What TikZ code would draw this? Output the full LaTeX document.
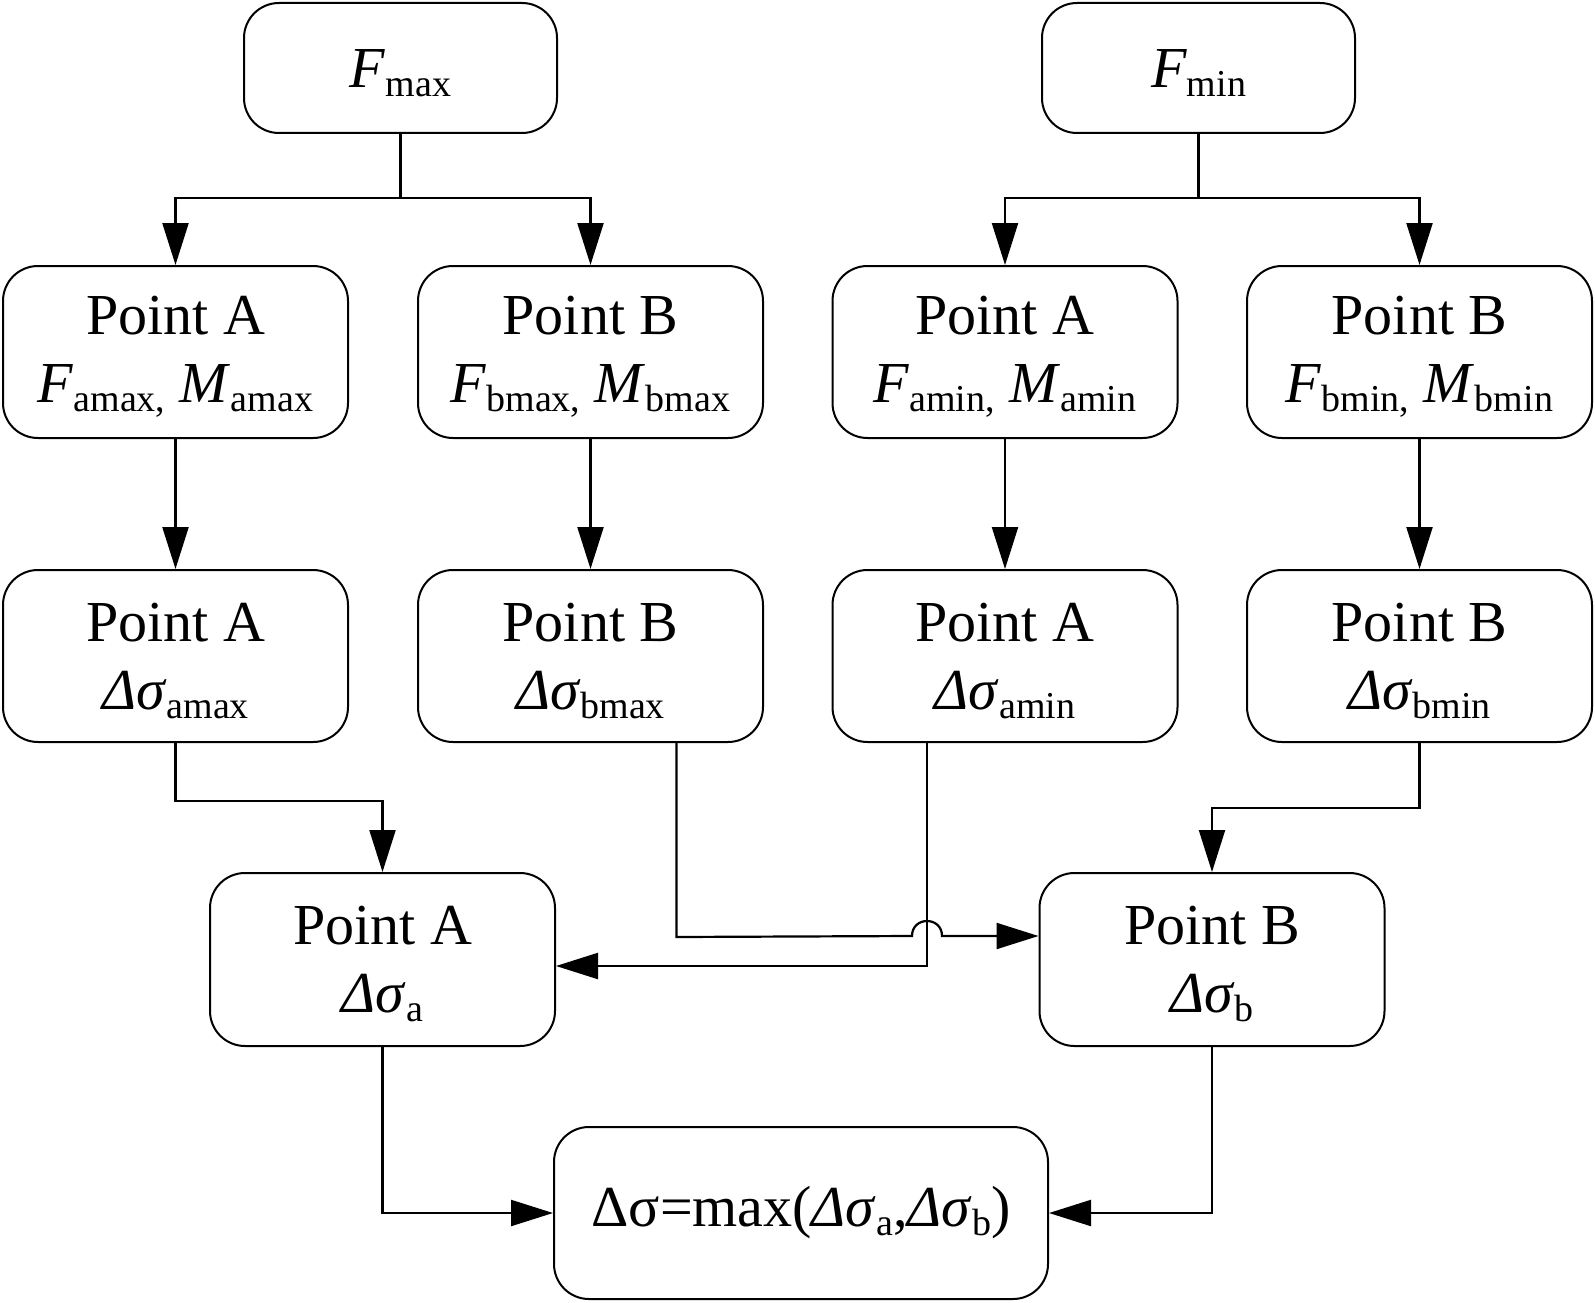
\documentclass[tikz,border=0pt]{standalone}
\usepackage{fontspec}
\setmainfont{Liberation Serif}
\usetikzlibrary{arrows.meta,calc}
\newcommand\sbs[1]{\raisebox{-9pt}{\fontsize{38}{38}\selectfont #1}}
\newcommand\tp{\rule{0pt}{48pt}}
\begin{document}
\begin{tikzpicture}[x=1pt,y=-1pt,
  box/.style={draw, line width=2pt, rounded corners=35pt, align=center, inner sep=0pt,
    font=\fontsize{58}{68}\selectfont, minimum width=345pt, minimum height=172pt},
  ln/.style={line width=2.2pt},
  arr/.style={line width=2.2pt, -{Triangle[length=42pt,width=26pt]}}]
\useasboundingbox (0,0) rectangle (1595,1303);
% top
\node[box, minimum width=313pt, minimum height=130pt] (fmax) at (400.5,68) {\tp\textit{F}\sbs{max}};
\node[box, minimum width=313pt, minimum height=130pt] (fmin) at (1198.5,68) {\tp\textit{F}\sbs{min}};
% row 2
\node[box] (a1) at (175.5,352) {\tp Point A\\\textit{F}\sbs{amax,} \textit{M}\sbs{amax}};
\node[box] (b1) at (590.5,352) {\tp Point B\\\textit{F}\sbs{bmax,} \textit{M}\sbs{bmax}};
\node[box] (a2) at (1005,352) {\tp Point A\\\textit{F}\sbs{amin,} \textit{M}\sbs{amin}};
\node[box] (b2) at (1419.5,352) {\tp Point B\\\textit{F}\sbs{bmin,} \textit{M}\sbs{bmin}};
% row 3
\node[box] (a3) at (175.5,656) {\tp Point A\\\textit{Δσ}\sbs{amax}};
\node[box] (b3) at (590.5,656) {\tp Point B\\\textit{Δσ}\sbs{bmax}};
\node[box] (a4) at (1005,656) {\tp Point A\\\textit{Δσ}\sbs{amin}};
\node[box] (b4) at (1419.5,656) {\tp Point B\\\textit{Δσ}\sbs{bmin}};
% row 4
\node[box, minimum height=173pt] (pa) at (382.5,959.5) {\tp Point A\\\textit{Δσ}\sbs{a}};
\node[box, minimum height=173pt] (pb) at (1212,959.5) {\tp Point B\\\textit{Δσ}\sbs{b}};
% result
\node[box, minimum width=494pt] (res) at (801,1213) {Δσ=max(\textit{Δσ}\sbs{a},\textit{Δσ}\sbs{b})};
% connectors top
\draw[ln] (fmax.south) -- ($(fmax.south)+(0,64)$) coordinate (j1);
\draw[arr] (j1) -| (a1.north);
\draw[arr] (j1) -| (b1.north);
\draw[ln] (fmin.south) -- ($(fmin.south)+(0,64)$) coordinate (j2);
\draw[arr] (j2) -| (a2.north);
\draw[arr] (j2) -| (b2.north);
% row 2 -> row 3
\draw[arr] (a1.south) -- (a3.north);
\draw[arr] (b1.south) -- (b3.north);
\draw[arr] (a2.south) -- (a4.north);
\draw[arr] (b2.south) -- (b4.north);
% row 3 -> row 4
\draw[arr] (a3.south) -- ++(0,58) -| (pa.north);
\draw[arr] (b4.south) -- ++(0,65) -| (pb.north);
\draw[arr] ($(b3.south)+(86,0)$) -- ($(b3.south)+(86,194)$) -- (912,936)
  .. controls (912,916) and (942,916) .. (942,936) -- ($(pb.west)+(0,-23.5)$);
\draw[arr] ($(a4.south)+(-78,0)$) |- ($(pa.east)+(0,6.5)$);
% row 4 -> result
\draw[arr] (pa.south) |- (res.west);
\draw[arr] (pb.south) |- (res.east);
\end{tikzpicture}
\end{document}
